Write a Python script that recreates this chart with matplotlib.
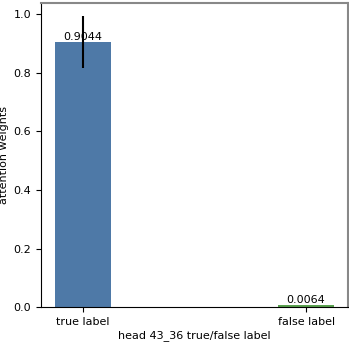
import matplotlib
matplotlib.use('Agg')
import matplotlib.pyplot as plt

labels = ['true label', 'false label']
weights = [0.9044, 0.0064]
errors = [0.088, 0.0]
colors = ['#4e79a7', '#59a14f']

fig = plt.figure(figsize=(3.49, 3.42), dpi=100)
ax = fig.add_axes([0.1175, 0.102, 0.8795, 0.889])

x = range(len(labels))
bars = ax.bar(x, weights, width=0.25, color=colors, yerr=errors,
              error_kw=dict(ecolor='black', elinewidth=1.5, capsize=0))
for b, v in zip(bars, weights):
    ax.text(b.get_x() + b.get_width() / 2, v, f'{v:.4f}',
            ha='center', va='bottom', fontsize=8)

ax.set_xticks(list(x))
ax.set_xticklabels(labels, fontsize=8)
ax.tick_params(axis='y', labelsize=8)
ax.set_xlabel('head 43_36 true/false label', fontsize=8, labelpad=2)
ax.set_ylabel('attention weights', fontsize=8, labelpad=3)
ax.set_ylim(0, 1.038)
for s in ['top', 'right']:
    ax.spines[s].set_color('#888888')
    ax.spines[s].set_linewidth(1.5)

fig.savefig('out.png', dpi=100)
